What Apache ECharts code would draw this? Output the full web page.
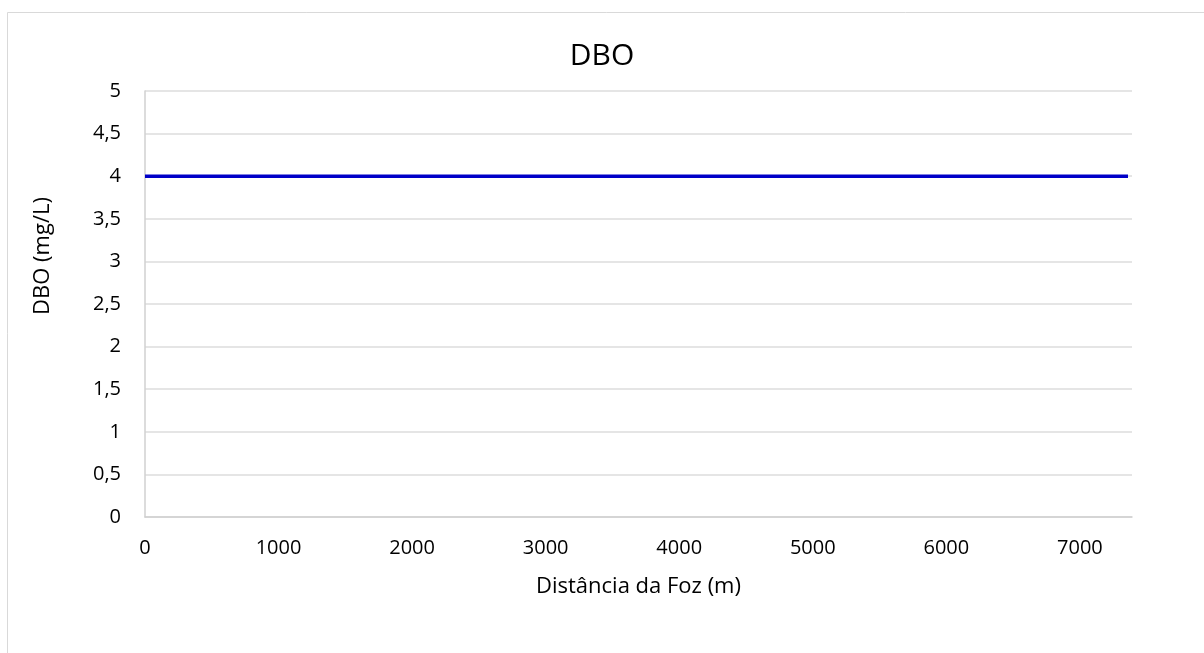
<!DOCTYPE html>
<html>
<head>
<meta charset="utf-8">
<script src="https://cdn.jsdelivr.net/npm/echarts@6/dist/echarts.min.js"></script>
<style>html,body{margin:0;padding:0;background:#fff;}#c{width:1204px;height:653px;}</style>
</head>
<body>
<div id="c"></div>
<script>
const chartTitle = 'DBO';
const xAxisName = 'Distância da Foz (m)';
const yAxisName = 'DBO (mg/L)';
const distances = [0, 7360];
const dboValues = [4, 4];
const xMax = 7390;
const yTicks = [0, 0.5, 1, 1.5, 2, 2.5, 3, 3.5, 4, 4.5, 5];

const chart = echarts.init(document.getElementById('c'));
const font = '"Open Sans", sans-serif';
chart.setOption({
  animation: false,
  backgroundColor: '#fff',
  title: {
    text: chartTitle, left: 'center', top: 36,
    textStyle: { fontFamily: font, fontSize: 30, fontWeight: 'normal', color: '#000' }
  },
  graphic: [
    { type: 'rect', shape: { x: 7.5, y: 12.5, width: 1400, height: 900 }, style: { fill: 'none', stroke: '#d9d9d9', lineWidth: 1 }, silent: true },
    { type: 'text', x: 43, y: 256, rotation: Math.PI / 2,
      style: { text: yAxisName, font: '22px "Open Sans", sans-serif', fill: '#000', align: 'center', verticalAlign: 'middle' } }
  ],
  grid: { left: 145, top: 91, right: 72, bottom: 136 },
  xAxis: {
    type: 'value', min: 0, max: xMax, interval: 1000,
    name: xAxisName, nameLocation: 'middle', nameGap: 59,
    nameTextStyle: { fontFamily: font, fontSize: 22, color: '#000' },
    axisLine: { show: true, lineStyle: { color: '#d0d0d0', width: 1.5 } },
    axisTick: { show: false },
    splitLine: { show: false },
    axisLabel: {
      margin: 21, fontFamily: font, fontSize: 20, color: '#000',
      formatter: v => (v % 1000 === 0 ? String(v) : '')
    }
  },
  yAxis: {
    type: 'value', min: yTicks[0], max: yTicks[yTicks.length - 1], interval: 0.5,
    axisLine: { show: true, lineStyle: { color: '#d0d0d0', width: 1.5 } },
    axisTick: { show: false },
    splitLine: { show: true, lineStyle: { color: '#dcdcdc', width: 1.5 } },
    axisLabel: {
      margin: 24, fontFamily: font, fontSize: 20, color: '#000',
      formatter: v => String(v).replace('.', ',')
    }
  },
  series: [{
    type: 'line',
    data: distances.map((d, i) => [d, dboValues[i]]),
    showSymbol: false,
    lineStyle: { color: '#0000c8', width: 3.5 },
    itemStyle: { color: '#0000c8' }
  }]
});
</script>
</body>
</html>
